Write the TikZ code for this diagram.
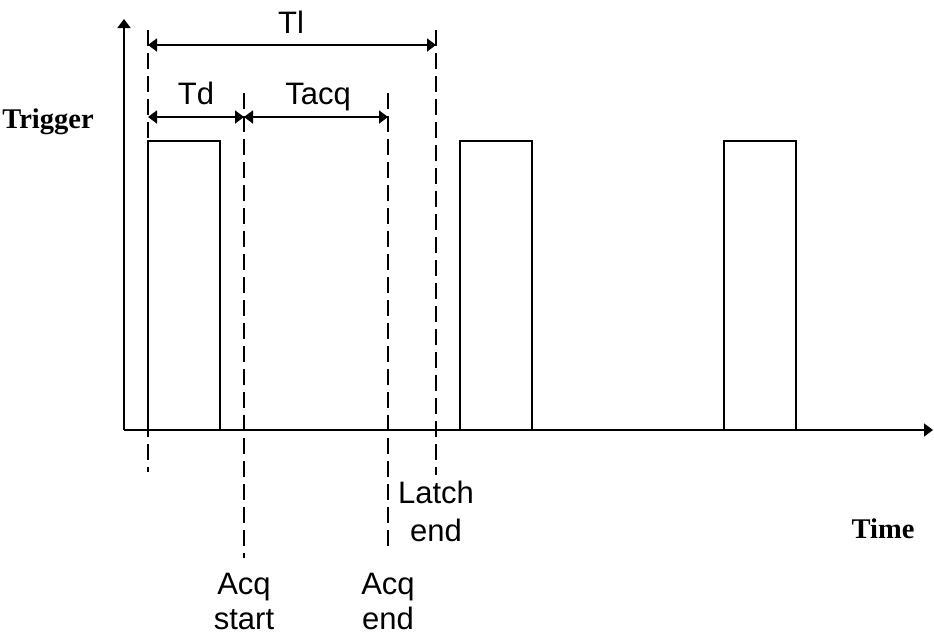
\documentclass[tikz,border=0pt]{standalone}
\usepackage{fontspec}
\setmainfont{Liberation Sans}
\newfontfamily\timesfont{Liberation Serif}
\usetikzlibrary{arrows.meta}

\begin{document}
\begin{tikzpicture}[x=1pt,y=-1pt,
    axis/.style={line width=1.8pt,-{Triangle[length=9pt,width=13pt]}},
    dim/.style={line width=1.8pt,{Triangle[length=9pt,width=13pt]}-{Triangle[length=9pt,width=13pt]}},
    pulse/.style={line width=1.5pt},
    marker/.style={line width=1.5pt,dash pattern=on 16pt off 7pt},
    lbl/.style={font=\fontsize{31}{38}\selectfont,inner sep=0pt},
    axlbl/.style={font=\timesfont\bfseries\fontsize{28.5}{30}\selectfont,inner sep=0pt}]
    \useasboundingbox (0,0) rectangle (934,638);

    % axes
    \coordinate (O) at (124,430);
    \coordinate (ytop) at (124,19);
    \coordinate (xend) at (933,430);
    \draw[axis] (O) -- (ytop);
    \draw[axis] (O) -- (xend);
    \node[axlbl,anchor=base] (trigger) at (48,128) {Trigger};
    \node[axlbl,anchor=base] (time) at (883,538) {Time};

    % trigger pulses
    \foreach \x in {148,460,724}
        \draw[pulse] (\x,430) -- (\x,141) -- (\x+72,141) -- (\x+72,430);

    % time markers
    \foreach \x/\a/\b in {148/30/472, 244/93/558, 388/93/548, 436/30/475}
        \draw[marker] (\x,\a) -- (\x,\b);

    % intervals
    \coordinate (tl0) at (148,45);
    \coordinate (tl1) at (436,45);
    \coordinate (td0) at (148,117);
    \coordinate (td1) at (244,117);
    \coordinate (ta1) at (388,117);
    \draw[dim] (tl0) -- (tl1);
    \draw[dim] (td0) -- (td1);
    \draw[dim] (td1) -- (ta1);
    \node[lbl,anchor=base] (tl) at (291,33) {Tl};
    \node[lbl,anchor=base] (td) at (196,104) {Td};
    \node[lbl,anchor=base] (tacq) at (318,104) {Tacq};

    % marker labels
    \node[lbl,anchor=north,align=center] (latch) at (436,481) {Latch\\end};
    \node[lbl,font=\fontsize{31}{35}\selectfont,anchor=north,align=center] (acqstart) at (244,573) {Acq\\start};
    \node[lbl,font=\fontsize{31}{35}\selectfont,anchor=north,align=center] (acqend) at (388,573) {Acq\\end};
\end{tikzpicture}
\end{document}
